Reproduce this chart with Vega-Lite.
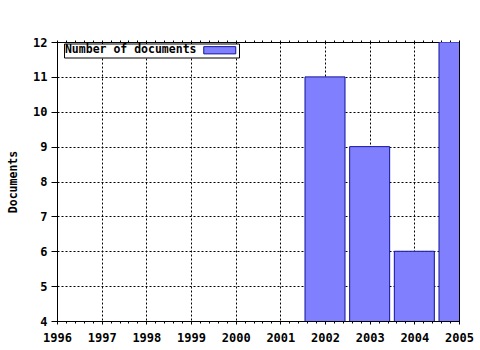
{
  "$schema": "https://vega.github.io/schema/vega-lite/v6.json",
  "autosize": "none",
  "width": 402,
  "height": 279,
  "padding": {"left": 57, "top": 42, "right": 21, "bottom": 29},
  "background": "white",
  "config": {
    "font": "DejaVu Sans Mono",
    "view": {"stroke": "black", "strokeWidth": 1},
    "axis": {
      "labelFont": "DejaVu Sans Mono",
      "labelFontWeight": "bold",
      "labelFontSize": 12,
      "labelColor": "black",
      "titleFont": "DejaVu Sans Mono",
      "titleFontWeight": "bold",
      "titleFontSize": 11.5,
      "titleColor": "black",
      "domainColor": "black",
      "tickColor": "black",
      "gridColor": "black",
      "gridOpacity": 1,
      "gridDash": [2, 2],
      "gridWidth": 1
    }
  },
  "data": {
    "values": [
      {"year": 2002, "documents": 11, "series": "Number of documents"},
      {"year": 2003, "documents": 9, "series": "Number of documents"},
      {"year": 2004, "documents": 6, "series": "Number of documents"},
      {"year": 2005, "documents": 12, "series": "Number of documents"}
    ]
  },
  "resolve": {"axis": {"x": "independent", "y": "independent"}},
  "layer": [
    {
      "mark": {"type": "bar", "width": 40, "clip": true, "stroke": "#10109a", "strokeWidth": 1},
      "encoding": {
        "x": {
          "field": "year",
          "type": "quantitative",
          "scale": {"domain": [1996, 2005], "nice": false, "zero": false, "padding": 0},
          "axis": {
            "orient": "bottom",
            "title": null,
            "values": [1996, 1997, 1998, 1999, 2000, 2001, 2002, 2003, 2004, 2005],
            "format": "d",
            "grid": true,
            "tickSize": 3,
            "labelPadding": 8,
            "labelFlush": false,
            "labelOverlap": false
          }
        },
        "y": {
          "field": "documents",
          "type": "quantitative",
          "scale": {"domain": [4, 12], "nice": false, "zero": false, "padding": 0},
          "axis": {
            "orient": "left",
            "title": "Documents",
            "values": [4, 5, 6, 7, 8, 9, 10, 11, 12],
            "format": "d",
            "grid": true,
            "tickSize": 6,
            "labelPadding": 4,
            "labelOverlap": false,
            "labelFlush": false,
            "titlePadding": 14
          }
        },
        "fill": {
          "field": "series",
          "type": "nominal",
          "scale": {"domain": ["Number of documents"], "range": ["#8080ff"]},
          "legend": {
            "title": null,
            "orient": "none",
            "legendX": 7,
            "legendY": 1.5,
            "direction": "vertical",
            "padding": 1,
            "strokeColor": "black",
            "fillColor": "white",
            "labelFont": "DejaVu Sans Mono",
            "labelFontWeight": "bold",
            "labelFontSize": 11.5,
            "labelColor": "black",
            "labelAlign": "right",
            "labelOffset": -29,
            "symbolType": "M-4,-0.9H4V0.9H-4Z",
            "symbolSize": 64,
            "symbolStrokeColor": "#10109a",
            "symbolStrokeWidth": 1,
            "symbolOffset": 149
          }
        }
      }
    },
    {
      "mark": {"type": "point", "opacity": 0},
      "encoding": {
        "x": {
          "field": "year",
          "type": "quantitative",
          "axis": {
            "orient": "bottom",
            "title": null,
            "tickCount": 45,
            "labels": false,
            "domain": false,
            "grid": false,
            "tickSize": 2
          }
        },
        "y": {"field": "documents", "type": "quantitative", "axis": null}
      }
    },
    {
      "mark": {"type": "point", "opacity": 0},
      "encoding": {
        "x": {
          "field": "year",
          "type": "quantitative",
          "axis": {
            "orient": "top",
            "title": null,
            "tickCount": 45,
            "labels": false,
            "domain": false,
            "grid": false,
            "tickSize": 2
          }
        },
        "y": {"field": "documents", "type": "quantitative", "axis": null}
      }
    }
  ]
}
